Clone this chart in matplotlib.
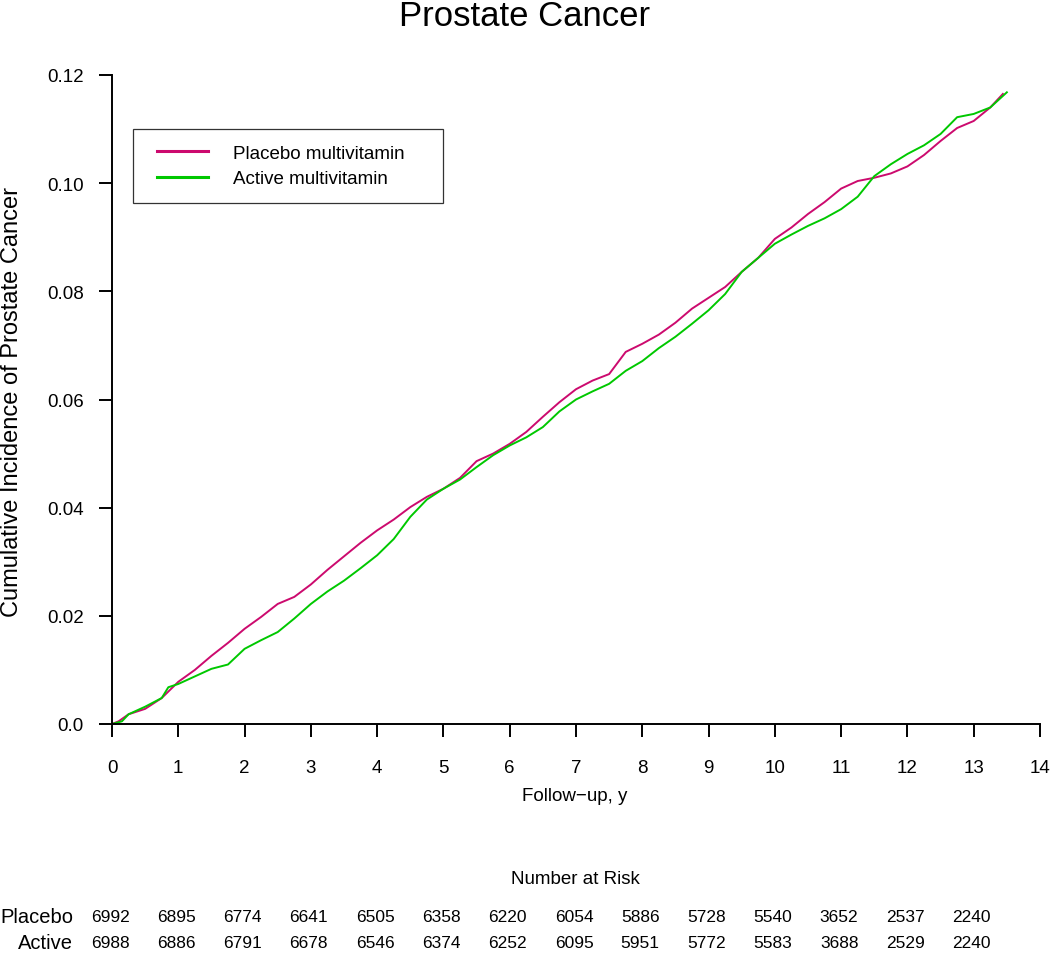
import matplotlib
matplotlib.use("Agg")
import matplotlib.pyplot as plt
from matplotlib.legend_handler import HandlerLine2D

plt.rcParams['font.family'] = ['Liberation Sans', 'DejaVu Sans']

# cumulative incidence (years, proportion)
placebo_t = [0, 0.1, 0.25, 0.5, 0.75, 1.0, 1.25, 1.5, 1.75, 2.0, 2.25, 2.5, 2.75, 3.0,
             3.25, 3.5, 3.75, 4.0, 4.25, 4.5, 4.75, 5.0, 5.25, 5.5, 5.75, 6.0, 6.25,
             6.5, 6.75, 7.0, 7.25, 7.5, 7.75, 8.0, 8.25, 8.5, 8.75, 9.0, 9.25, 9.5,
             9.75, 10.0, 10.25, 10.5, 10.75, 11.0, 11.25, 11.5, 11.75, 12.0, 12.25,
             12.5, 12.75, 13.0, 13.25, 13.44]
placebo_ci = [0, 0.0005, 0.0018, 0.0028, 0.0048, 0.0078, 0.0100, 0.0126, 0.0150, 0.0176,
              0.0198, 0.0222, 0.0235, 0.0258, 0.0285, 0.0310, 0.0335, 0.0358, 0.0378,
              0.0401, 0.0420, 0.0435, 0.0455, 0.0486, 0.0500, 0.0518, 0.0540, 0.0568,
              0.0595, 0.0619, 0.0635, 0.0647, 0.0688, 0.0703, 0.0720, 0.0742, 0.0768,
              0.0788, 0.0808, 0.0836, 0.0862, 0.0897, 0.0918, 0.0943, 0.0965, 0.0990,
              0.1004, 0.1010, 0.1018, 0.1031, 0.1052, 0.1078, 0.1102, 0.1115, 0.1140,
              0.1165]

active_t = [0, 0.15, 0.25, 0.5, 0.75, 0.85, 1.0, 1.25, 1.5, 1.75, 2.0, 2.25, 2.5, 2.75,
            3.0, 3.25, 3.5, 3.75, 4.0, 4.25, 4.5, 4.75, 5.0, 5.25, 5.5, 5.75, 6.0, 6.25,
            6.5, 6.75, 7.0, 7.25, 7.5, 7.75, 8.0, 8.25, 8.5, 8.75, 9.0, 9.25, 9.5,
            9.75, 10.0, 10.25, 10.5, 10.75, 11.0, 11.25, 11.5, 11.75, 12.0, 12.25,
            12.5, 12.75, 13.0, 13.25, 13.5]
active_ci = [0, 0.0005, 0.0018, 0.0032, 0.0048, 0.0068, 0.0074, 0.0088, 0.0102, 0.0110,
             0.0139, 0.0155, 0.0170, 0.0195, 0.0222, 0.0245, 0.0265, 0.0288, 0.0312,
             0.0342, 0.0383, 0.0415, 0.0435, 0.0452, 0.0475, 0.0497, 0.0515, 0.0530,
             0.0549, 0.0578, 0.0600, 0.0615, 0.0629, 0.0653, 0.0671, 0.0695, 0.0716,
             0.0740, 0.0765, 0.0795, 0.0836, 0.0862, 0.0888, 0.0905, 0.0921, 0.0935,
             0.0952, 0.0975, 0.1013, 0.1035, 0.1054, 0.1070, 0.1091, 0.1122, 0.1128,
             0.1140, 0.1168]

risk_times = list(range(14))
placebo_risk = [6992, 6895, 6774, 6641, 6505, 6358, 6220, 6054, 5886, 5728, 5540, 3652, 2537, 2240]
active_risk = [6988, 6886, 6791, 6678, 6546, 6374, 6252, 6095, 5951, 5772, 5583, 3688, 2529, 2240]

placebo_col = '#CC0A6E'
active_col = '#00C800'

fig = plt.figure(figsize=(10.5, 9.54), dpi=100)
ax = fig.add_axes([112 / 1050, 229 / 954, 928 / 1050, 649 / 954])

ax.plot(placebo_t, placebo_ci, color=placebo_col, lw=1.4, label='Placebo multivitamin')
ax.plot(active_t, active_ci, color=active_col, lw=1.4, label='Active multivitamin')

ax.set_xlim(0, 14.0)
ax.set_ylim(0, 0.12)
for s in ['top', 'right']:
    ax.spines[s].set_visible(False)
for s in ['left', 'bottom']:
    ax.spines[s].set_linewidth(1.4)
ax.set_xticks(range(15))
ax.set_yticks([0, 0.02, 0.04, 0.06, 0.08, 0.10, 0.12])
ax.set_yticklabels(['0.0', '0.02', '0.04', '0.06', '0.08', '0.10', '0.12'])
ax.tick_params(length=9.5, width=1.4, labelsize=13.5)
ax.tick_params(axis='x', pad=16)
ax.tick_params(axis='y', pad=11)
for ln in ax.lines:
    ln.set_clip_on(False)

hmap = {ln: HandlerLine2D(xpad=0.45) for ln in ax.lines}
leg = ax.legend(loc='upper left', bbox_to_anchor=(0.0226, 0.9168, 0.334, 0.0),
                mode='expand', borderaxespad=0, fontsize=13.5, frameon=True,
                fancybox=False, edgecolor='black', handlelength=3.17,
                handletextpad=1.35, borderpad=0.83, labelspacing=0.45,
                handler_map=hmap)
leg.get_frame().set_linewidth(0.9)
for ln in leg.get_lines():
    ln.set_linewidth(2.2)

fig.text(525 / 1050, 1 - 17 / 954, 'Prostate Cancer', ha='center', va='center', fontsize=25)
fig.text(12 / 1050, 1 - 402 / 954, 'Cumulative Incidence of Prostate Cancer',
         rotation=90, ha='center', va='center', fontsize=17)
fig.text(575 / 1050, 1 - 797 / 954, 'Follow\u2212up, y', ha='center', va='center', fontsize=13.5)
fig.text(575 / 1050, 1 - 880 / 954, 'Number at Risk', ha='center', va='center', fontsize=13.5)

fig.text(73 / 1050, 1 - 918 / 954, 'Placebo', ha='right', va='center', fontsize=14.5)
fig.text(73 / 1050, 1 - 944 / 954, 'Active', ha='right', va='center', fontsize=14.5)
for t, p, a in zip(risk_times, placebo_risk, active_risk):
    x = ax.transData.transform((t, 0))[0] / fig.bbox.width
    fig.text(x - 2 / 1050, 1 - 918 / 954, str(p), ha='center', va='center', fontsize=12.5)
    fig.text(x - 2 / 1050, 1 - 944 / 954, str(a), ha='center', va='center', fontsize=12.5)

fig.savefig('out.png', dpi=100)
